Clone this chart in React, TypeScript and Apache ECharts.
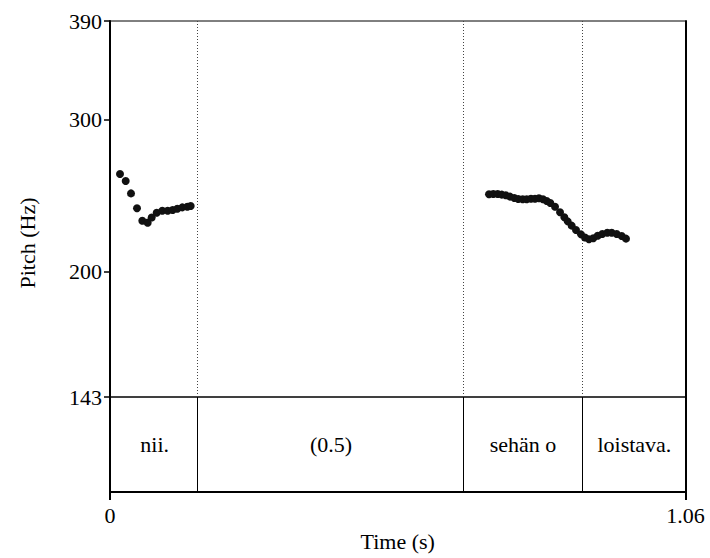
import React, { useEffect, useRef } from "react";
import * as echarts from "echarts";

const pitchTicks = [143, 200, 300, 390];
const timeTicks = [0, 1.06];

const seg1Times = [0.0184, 0.0289, 0.0387, 0.0497, 0.0595, 0.0694, 0.0768, 0.086, 0.0963, 0.1063, 0.1155, 0.124, 0.1332, 0.1424, 0.1486];
const seg1Hz = [259.3, 254.5, 246.2, 236.6, 228.9, 227.7, 230.9, 233.8, 235.1, 235.1, 235.5, 236.3, 237.2, 237.6, 238.1];

const seg2Times = [0.6981, 0.706, 0.7141, 0.7215, 0.7289, 0.7368, 0.7447, 0.752, 0.7601, 0.7675, 0.7754, 0.7828, 0.7901, 0.7975, 0.8044, 0.811, 0.8197, 0.8289, 0.8368, 0.843, 0.8504, 0.8583, 0.8675, 0.8749, 0.8822, 0.8902, 0.8983, 0.9068, 0.916, 0.9241, 0.9333, 0.9425, 0.9504];
const seg2Hz = [245.6, 245.8, 245.8, 245.4, 245.0, 244.1, 243.2, 242.5, 242.4, 242.4, 242.7, 242.7, 243.0, 242.4, 241.3, 240.0, 237.6, 234.1, 231.0, 228.5, 225.9, 223.3, 220.7, 218.9, 217.8, 218.4, 219.9, 220.9, 221.7, 221.7, 220.9, 219.7, 218.2];

const tierBounds = [0.1645, 0.6496, 0.8718];
const tierLabels = ["nii.", "(0.5)", "sehän o", "loistava."];

const FONT = "Times New Roman, Liberation Serif, serif";

export default function App() {
  const ref = useRef<HTMLDivElement>(null);
  useEffect(() => {
    if (!ref.current) return;
    const chart = echarts.init(ref.current, null, { renderer: "svg" });
    const xMin = timeTicks[0];
    const xMax = timeTicks[timeTicks.length - 1];
    const yMin = Math.log10(pitchTicks[0]);
    const yMax = Math.log10(pitchTicks[pitchTicks.length - 1]);
    const pts = seg1Times.map((t, i) => [t, Math.log10(seg1Hz[i])]).concat(
      seg2Times.map((t, i) => [t, Math.log10(seg2Hz[i])])
    );
    const edges = [xMin, ...tierBounds, xMax];
    const tierData = tierLabels.map((name, i) => ({ name, value: [(edges[i] + edges[i + 1]) / 2, 0.5] }));

    const lineOnly = (gridIndex: number, position: "left" | "right") => ({
      type: "value",
      gridIndex,
      position,
      min: 0,
      max: 1,
      axisLine: { show: true, onZero: false, lineStyle: { color: "#000", width: 2 } },
      axisTick: { show: false },
      axisLabel: { show: false },
      splitLine: { show: false },
    });

    chart.setOption({
      animation: false,
      backgroundColor: "#fff",
      textStyle: { fontFamily: FONT },
      grid: [
        { left: 110, top: 21, width: 575.5, height: 376, show: true, borderColor: "#000", borderWidth: 1 },
        { left: 110, top: 397, width: 575.5, height: 95, show: true, borderColor: "#000", borderWidth: 1 },
      ],
      xAxis: [
        {
          type: "value",
          gridIndex: 0,
          min: xMin,
          max: xMax,
          axisLine: { show: false },
          axisTick: { show: false },
          axisLabel: { show: false },
          splitLine: { show: false },
        },
        {
          type: "value",
          gridIndex: 1,
          min: xMin,
          max: xMax,
          name: "Time (s)",
          nameLocation: "middle",
          nameGap: 38,
          nameTextStyle: { fontFamily: FONT, fontSize: 22, color: "#000" },
          axisLine: { show: true, onZero: false, lineStyle: { color: "#000", width: 2 } },
          axisTick: { show: true, length: 8, lineStyle: { color: "#000", width: 2 }, customValues: timeTicks },
          axisLabel: {
            show: true,
            margin: 12,
            fontFamily: FONT,
            fontSize: 22,
            color: "#000",
            customValues: timeTicks,
            formatter: (v: number) => String(v),
          },
          splitLine: { show: false },
        },
      ],
      yAxis: [
        {
          type: "value",
          gridIndex: 0,
          min: yMin,
          max: yMax,
          axisLine: { show: true, onZero: false, lineStyle: { color: "#000", width: 2 } },
          axisTick: {
            show: true,
            length: 6,
            lineStyle: { color: "#000", width: 1.5 },
            customValues: pitchTicks.map((v) => Math.log10(v)),
          },
          axisLabel: {
            show: true,
            margin: 8,
            fontFamily: FONT,
            fontSize: 22,
            color: "#000",
            customValues: pitchTicks.map((v) => Math.log10(v)),
            formatter: (v: number) => String(Math.round(Math.pow(10, v))),
          },
          splitLine: { show: false },
        },
        { ...lineOnly(0, "right"), min: yMin, max: yMax },
        lineOnly(1, "left"),
        lineOnly(1, "right"),
      ],
      graphic: [
        {
          type: "text",
          x: 27,
          y: 243,
          rotation: Math.PI / 2,
          style: {
            text: "Pitch (Hz)",
            fontFamily: FONT,
            fontSize: 22,
            fill: "#000",
            align: "center",
            verticalAlign: "middle",
          },
        },
      ],
      series: [
        {
          type: "scatter",
          xAxisIndex: 0,
          yAxisIndex: 0,
          data: pts,
          symbol: "circle",
          symbolSize: 8,
          itemStyle: { color: "#111", opacity: 1 },
          markLine: {
            silent: true,
            symbol: "none",
            label: { show: false },
            lineStyle: { color: "#444", type: [1, 2], width: 1 },
            data: tierBounds.map((x) => ({ xAxis: x })),
          },
          z: 5,
        },
        {
          type: "scatter",
          xAxisIndex: 1,
          yAxisIndex: 2,
          data: tierData,
          symbolSize: 0,
          itemStyle: { color: "#000", opacity: 1 },
          label: {
            show: true,
            position: "inside",
            formatter: (p: any) => p.name,
            fontFamily: FONT,
            fontSize: 22,
            color: "#000",
            opacity: 1,
          },
          markLine: {
            silent: true,
            symbol: "none",
            label: { show: false },
            lineStyle: { color: "#000", type: "solid", width: 1 },
            data: tierBounds.map((x) => ({ xAxis: x })),
          },
        },
      ],
    });
    return () => chart.dispose();
  }, []);
  return (
    <div
      ref={ref}
      style={{ position: "fixed", left: 0, top: 0, width: 710, height: 558, background: "#fff" }}
    />
  );
}
